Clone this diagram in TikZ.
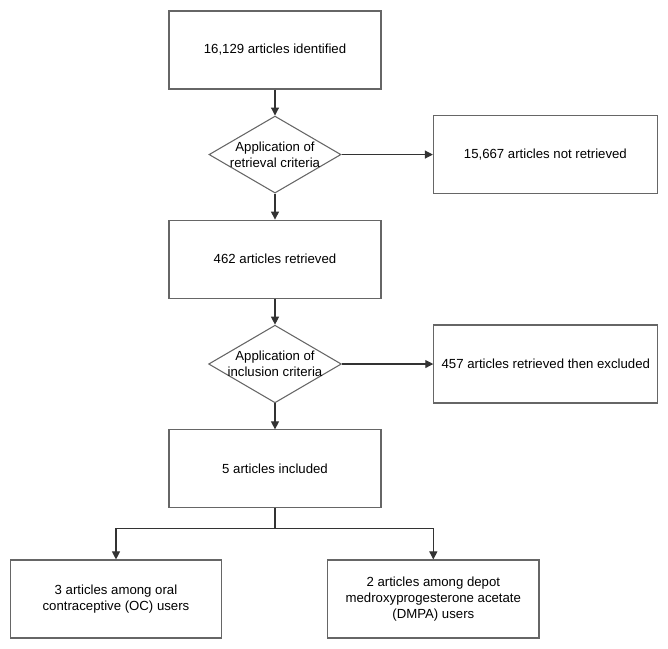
\documentclass[tikz,border=0pt]{standalone}
\usepackage{fontspec}
\setmainfont{Liberation Sans}
\usetikzlibrary{shapes.geometric,arrows.meta,positioning}
\tikzstyle{box} = [rectangle, minimum width=159pt, minimum height=58.5pt, align=center, draw=black!60, line width=0.8pt]
\tikzstyle{sidebox} = [box, minimum width=168pt]
\tikzstyle{leafbox} = [box, minimum width=158.5pt]
\tikzstyle{decision} = [diamond, aspect=1.71, minimum width=99pt, minimum height=57.75pt, inner xsep=-2pt, inner ysep=0pt, align=center, draw=black!60, line width=0.8pt]
\tikzstyle{arrow} = [draw=black!80, line width=0.8pt, -{Triangle[length=6pt,width=6pt]}]
\tikzstyle{line} = [draw=black!80, line width=0.8pt]

\begin{document}
\begin{tikzpicture}[node distance=19.5pt, font=\fontsize{9.9}{11.8}\selectfont]
  \useasboundingbox (0,0) rectangle (501pt,-486.75pt);
  \node[box] (found) at (206.25pt,-37.5pt) {16,129 articles identified};
  \node[decision, below=of found] (retcrit) {Application of\\retrieval criteria};
  \node[sidebox, right=68.5pt of retcrit] (notret) {15,667 articles not retrieved};
  \node[box, below=of retcrit] (ret) {462 articles retrieved};
  \node[decision, below=of ret] (inccrit) {Application of\\inclusion criteria};
  \node[sidebox, right=68.5pt of inccrit] (excl) {457 articles retrieved then excluded};
  \node[box, below=of inccrit] (incl) {5 articles included};
  \node[leafbox, below=38.25pt of incl, xshift=-119.25pt] (oc) {3 articles among oral\\contraceptive (OC) users};
  \node[leafbox, below=38.25pt of incl, xshift=118.75pt] (dmpa) {2 articles among depot\\medroxyprogesterone acetate\\(DMPA) users};
  \coordinate[below=14.75pt of incl] (split);
  % main flow
  \draw[arrow] (found) -- (retcrit);
  \draw[arrow] (retcrit) -- (notret);
  \draw[arrow] (retcrit) -- (ret);
  \draw[arrow] (ret) -- (inccrit);
  \draw[arrow] (inccrit) -- (excl);
  \draw[arrow] (inccrit) -- (incl);
  % split by method
  \draw[line] (incl) -- (split);
  \draw[arrow] (split) -| (oc);
  \draw[arrow] (split) -| (dmpa);
\end{tikzpicture}
\end{document}
